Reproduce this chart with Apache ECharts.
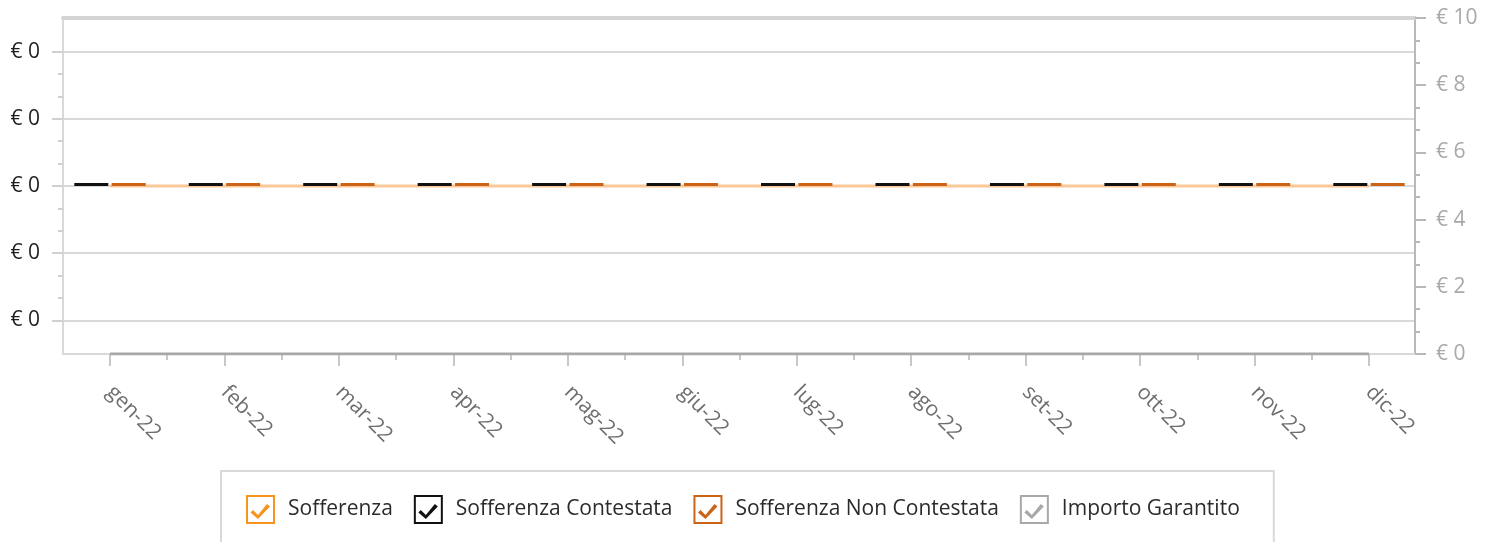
<!DOCTYPE html>
<html>
<head>
<meta charset="utf-8">
<script src="https://cdn.jsdelivr.net/npm/echarts@6/dist/echarts.min.js"></script>
<style>
  html, body { margin: 0; padding: 0; background: #ffffff; }
  #chart { width: 1498px; height: 542px; }
</style>
</head>
<body>
<div id="chart"></div>
<script>
// Monthly categories
const months = ['gen-22', 'feb-22', 'mar-22', 'apr-22', 'mag-22', 'giu-22',
                'lug-22', 'ago-22', 'set-22', 'ott-22', 'nov-22', 'dic-22'];

// Series values (euro)
const sofferenza           = [0, 0, 0, 0, 0, 0, 0, 0, 0, 0, 0, 0];
const sofferenzaContestata = [0, 0, 0, 0, 0, 0, 0, 0, 0, 0, 0, 0];
const sofferenzaNonContest = [0, 0, 0, 0, 0, 0, 0, 0, 0, 0, 0, 0];
const importoGarantito     = [0, 0, 0, 0, 0, 0, 0, 0, 0, 0, 0, 0];

// Axis ranges
const leftTicks  = { min: -0.4, max: 0.4, interval: 0.2 };
const rightTicks = { min: 0, max: 10, interval: 2 };

const FONT = '"Open Sans", "Noto Sans", sans-serif';
const FS = 21;
const pairs = arr => arr.map((v, i) => [i, v]);
const euro0 = v => '€ ' + (Math.round(v) || 0);

// Check-box icon: outline square with a tick mark
const CHECK = 'path://M0,0H29V29H0Z M2,2V27H27V2Z M7,15L12,20L21,9L24,11.5L12,24L4.5,17.5Z';

const chart = echarts.init(document.getElementById('chart'), null, { renderer: 'canvas' });

chart.setOption({
  animation: false,
  backgroundColor: '#ffffff',
  grid: [
    // frame of the plot
    { left: 63, right: 83, top: 18, bottom: 188, containLabel: false },
    // left scale with its grid lines
    { left: 63, right: 83, top: 51.6, bottom: 221.6, containLabel: false },
    // data area, months from first to last tick
    { left: 110, right: 129, top: 18, bottom: 188, containLabel: false }
  ],
  xAxis: [
    { gridIndex: 0, type: 'value', min: 0, max: 1, position: 'bottom',
      axisLine: { show: true, onZero: false, lineStyle: { color: '#d9d9d9', width: 2 } },
      axisTick: { show: false }, axisLabel: { show: false }, splitLine: { show: false } },
    { gridIndex: 0, type: 'value', min: 0, max: 1, position: 'top',
      axisLine: { show: true, onZero: false, lineStyle: { color: '#d4d4d4', width: 4 } },
      axisTick: { show: false }, axisLabel: { show: false }, splitLine: { show: false } },
    { gridIndex: 1, type: 'value', min: 0, max: 1, show: false },
    { gridIndex: 2, type: 'value', min: 0, max: months.length - 1, interval: 1, position: 'bottom',
      axisLine: { show: false, onZero: false },
      axisTick: { show: true, length: 12, lineStyle: { color: '#c8c8c8', width: 2 } },
      minorTick: { show: true, splitNumber: 2, length: 6, lineStyle: { color: '#c8c8c8', width: 2 } },
      axisLabel: {
        rotate: -45, margin: 35, color: '#6e6e6e', fontFamily: FONT, fontSize: FS,
        formatter: v => months[Math.round(v)] || ''
      },
      splitLine: { show: false } }
  ],
  yAxis: [
    { gridIndex: 0, type: 'value', min: 0, max: 1, position: 'left',
      axisLine: { show: true, onZero: false, lineStyle: { color: '#d9d9d9', width: 2 } },
      axisTick: { show: false }, axisLabel: { show: false }, splitLine: { show: false } },
    { gridIndex: 0, type: 'value', position: 'right',
      min: rightTicks.min, max: rightTicks.max, interval: rightTicks.interval,
      axisLine: { show: true, onZero: false, lineStyle: { color: '#b8b8b8', width: 2 } },
      axisTick: { show: true, length: 11, lineStyle: { color: '#b8b8b8', width: 2 } },
      minorTick: { show: true, splitNumber: 3, length: 5, lineStyle: { color: '#b8b8b8', width: 2 } },
      axisLabel: { margin: 21, color: '#a8a8a8', fontFamily: FONT, fontSize: FS,
                   formatter: v => '€ ' + v },
      splitLine: { show: false } },
    { gridIndex: 1, type: 'value', position: 'left',
      min: leftTicks.min, max: leftTicks.max, interval: leftTicks.interval,
      axisLine: { show: false, onZero: false },
      axisTick: { show: true, length: 11, lineStyle: { color: '#d0d0d0', width: 2 } },
      minorTick: { show: true, splitNumber: 3, length: 5, lineStyle: { color: '#d0d0d0', width: 2 } },
      axisLabel: { margin: 23, color: '#1e1e1e', fontFamily: FONT, fontSize: FS, formatter: euro0 },
      splitLine: { show: true, lineStyle: { color: '#d9d9d9', width: 2 } } },
    { gridIndex: 2, type: 'value', min: -0.5, max: 0.5, show: false, axisLine: { onZero: false } },
    { gridIndex: 2, type: 'value', min: 0, max: 10, show: false, axisLine: { onZero: false } }
  ],
  legend: {
    left: 221, top: 471,
    padding: [24, 34, 40, 25],
    borderColor: '#d9d9d9', borderWidth: 2,
    itemWidth: 29, itemHeight: 29, itemGap: 21,
    icon: CHECK,
    selectedMode: false,
    textStyle: { fontFamily: FONT, fontSize: FS, color: '#2b2b2b', padding: [0, 0, 0, 8] },
    data: [
      { name: 'Sofferenza', itemStyle: { color: '#f7941d', borderWidth: 0 } },
      { name: 'Sofferenza Contestata', itemStyle: { color: '#111111', borderWidth: 0 } },
      { name: 'Sofferenza Non Contestata', itemStyle: { color: '#cc6418', borderWidth: 0 } },
      { name: 'Importo Garantito', itemStyle: { color: '#a8a8a8', borderWidth: 0 } }
    ]
  },
  series: [
    { name: 'Sofferenza', type: 'line', xAxisIndex: 3, yAxisIndex: 3,
      data: pairs(sofferenza), showSymbol: false, symbol: 'none', z: 1,
      itemStyle: { color: '#f7941d' },
      lineStyle: { color: '#f9c896', width: 3 } },
    { name: 'Sofferenza Contestata', type: 'bar', xAxisIndex: 3, yAxisIndex: 3,
      data: pairs(sofferenzaContestata), barWidth: 34, barGap: '10%', barMinHeight: 3,
      clip: false, z: 3, itemStyle: { color: '#111111' } },
    { name: 'Sofferenza Non Contestata', type: 'bar', xAxisIndex: 3, yAxisIndex: 3,
      data: pairs(sofferenzaNonContest), barWidth: 34, barGap: '10%', barMinHeight: 3,
      clip: false, z: 3, itemStyle: { color: '#cc6418' } },
    { name: 'Importo Garantito', type: 'line', xAxisIndex: 3, yAxisIndex: 4,
      data: pairs(importoGarantito), showSymbol: false, symbol: 'none', z: 2,
      itemStyle: { color: '#a8a8a8' },
      lineStyle: { color: '#a8a8a8', width: 3 } }
  ]
});
</script>
</body>
</html>
